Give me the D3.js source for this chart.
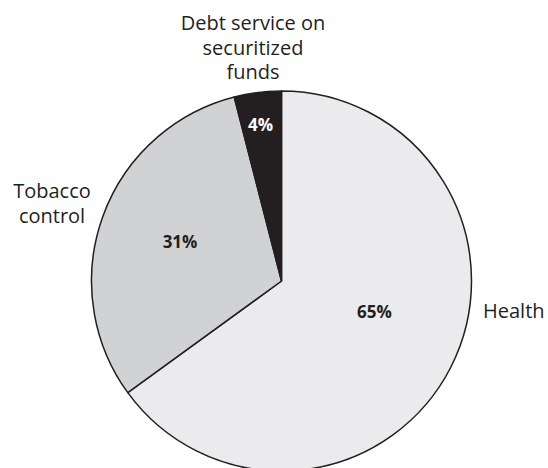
<!DOCTYPE html>
<html>
<head>
<meta charset="utf-8">
<script src="https://cdn.jsdelivr.net/npm/d3@7"></script>
<style>
  html, body { margin: 0; padding: 0; background: #ffffff; }
  svg { display: block; }
  text { font-family: "Open Sans", "Noto Sans", sans-serif; fill: #231f20; }
</style>
</head>
<body>
<svg id="chart" width="548" height="468"></svg>
<script>
// Shares of spending, clockwise from 12 o'clock
const categories = ["Health", "Tobacco control", "Debt service on securitized funds"];
const shares = [65, 31, 4];
const valueLabels = ["65%", "31%", "4%"];
const categoryLines = [["Health"], ["Tobacco", "control"], ["Debt service on", "securitized", "funds"]];

const W = 548, H = 468;
const cx = 281.5, cy = 281, R = 190;

const fills = ["#ebebed", "#d1d2d4", "#231f20"];
const valueFill = ["#231f20", "#231f20", "#ffffff"];

// Label placements relative to the pie centre
const valuePos = [[93, 37], [-101.5, -33], [-21, -150]];
const namePos = [[201.5, 37], [-229.5, -83], [-28.5, -251]];
const nameAnchor = ["start", "middle", "middle"];

const svg = d3.select("#chart");
const g = svg.append("g").attr("transform", `translate(${cx},${cy})`);

const pie = d3.pie().sort(null).value(d => d).startAngle(0).endAngle(2 * Math.PI);
const arcs = pie(shares);
const arc = d3.arc().innerRadius(0).outerRadius(R);

g.selectAll("path.slice")
  .data(arcs)
  .join("path")
  .attr("class", "slice")
  .attr("d", arc)
  .attr("fill", (d, i) => fills[i])
  .attr("stroke", "#231f20")
  .attr("stroke-width", 1.5)
  .attr("stroke-linejoin", "round");

g.selectAll("text.value")
  .data(arcs)
  .join("text")
  .attr("class", "value")
  .attr("x", (d, i) => valuePos[i][0])
  .attr("y", (d, i) => valuePos[i][1])
  .attr("text-anchor", "middle")
  .style("font-size", "17px")
  .style("font-weight", "bold")
  .style("fill", (d, i) => valueFill[i])
  .text((d, i) => valueLabels[i]);

const names = g.selectAll("text.name")
  .data(categories)
  .join("text")
  .attr("class", "name")
  .attr("text-anchor", (d, i) => nameAnchor[i])
  .style("font-size", "20px");

names.each(function (d, i) {
  const t = d3.select(this);
  categoryLines[i].forEach((line, j) => {
    t.append("tspan")
      .attr("x", namePos[i][0])
      .attr("y", namePos[i][1] + j * 24.5)
      .text(line);
  });
});
</script>
</body>
</html>
